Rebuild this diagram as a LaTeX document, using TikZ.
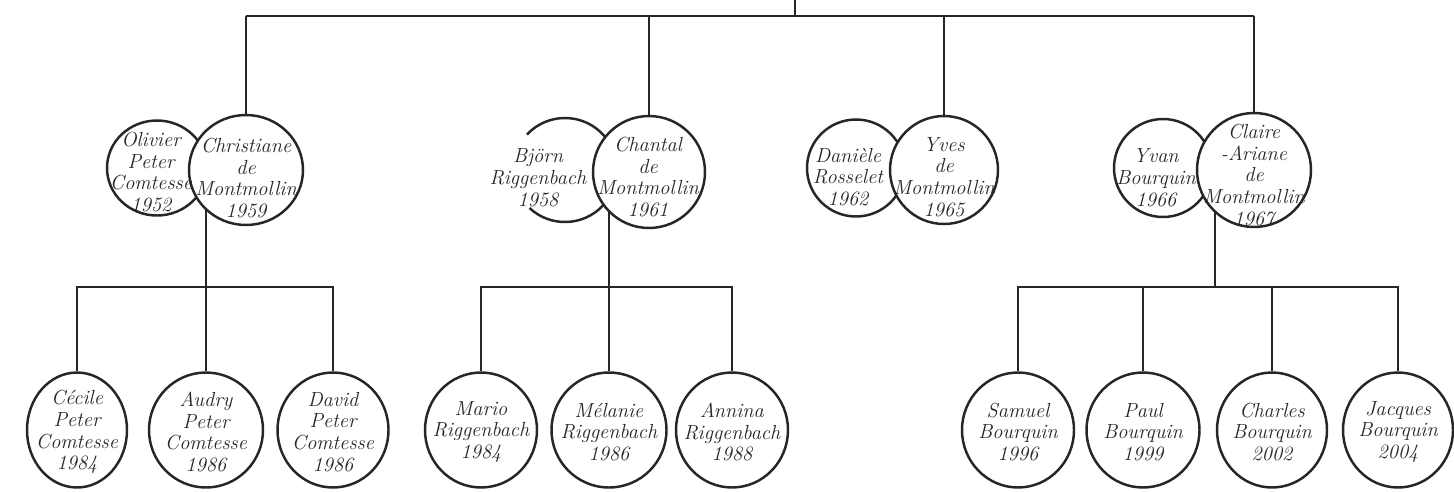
\documentclass[tikz,border=0pt]{standalone}
\usetikzlibrary{shapes.geometric,backgrounds}
\newcommand\famname{\fontsize{11.6}{12.4}\selectfont\itshape}
\begin{document}
\begin{tikzpicture}[x=0.02cm,y=-0.02cm,
  person/.style={ellipse,draw=black!85,line width=1.4pt,fill=white,inner sep=0pt},
  conn/.style={draw=black!85,line width=1.2pt},
  who/.style={align=center,font=\famname,inner sep=0pt,text=black!85}]
\useasboundingbox (0,0) rectangle (1454,491);
% couple 1
\node[person,minimum width=2cm,minimum height=1.9cm] (oli) at (157,168) {};
\node[person,minimum width=2.28cm,minimum height=2.2cm] (chr) at (246,170) {};
% couple 2
\coordinate (bjoc) at (565,170);
\draw[draw=black!85,line width=1.4pt] (bjoc) ++(-137:52) arc[start angle=-137,end angle=133,radius=52];
\node[person,minimum width=2.24cm,minimum height=2.24cm] (cha) at (649,172) {};
% couple 3
\node[person,minimum width=1.96cm,minimum height=1.94cm] (dan) at (856,168) {};
\node[person,minimum width=2.16cm,minimum height=2.16cm] (yve) at (944,170) {};
% couple 4
\node[person,minimum width=1.96cm,minimum height=1.96cm] (yva) at (1163,168) {};
\node[person,minimum width=2.28cm,minimum height=2.28cm] (cla) at (1254,170) {};
% children
\node[person,minimum width=2cm,minimum height=2.3cm] (ce) at (77,430) {};
\node[person,minimum width=2.28cm,minimum height=2.3cm] (au) at (206,430) {};
\node[person,minimum width=2.22cm,minimum height=2.3cm] (da) at (333,430) {};
\node[person,minimum width=2.24cm,minimum height=2.3cm] (ma) at (481,430) {};
\node[person,minimum width=2.3cm,minimum height=2.3cm] (me) at (609,430) {};
\node[person,minimum width=2.24cm,minimum height=2.3cm] (an) at (732,430) {};
\node[person,minimum width=2.24cm,minimum height=2.3cm] (sa) at (1018,430) {};
\node[person,minimum width=2.26cm,minimum height=2.3cm] (pa) at (1143,430) {};
\node[person,minimum width=2.2cm,minimum height=2.3cm] (ch) at (1272,430) {};
\node[person,minimum width=2.2cm,minimum height=2.3cm] (ja) at (1398,430) {};
% texts
\node[who] (oli-t) at (151,172) {Olivier\\Peter\\Comtesse\\1952};
\node[who] (chr-t) at (246,178) {Christiane\\de\\Montmollin\\1959};
\node[who] (bjo-t) at (538,178) {Bj\"orn\\Riggenbach\\1958};
\node[who] (cha-t) at (648,177) {Chantal\\de\\Montmollin\\1961};
\node[who] (dan-t) at (848,177) {Dani\`ele\\Rosselet\\1962};
\node[who] (yve-t) at (944,177) {Yves\\de\\Montmollin\\1965};
\node[who] (yva-t) at (1156,178) {Yvan\\Bourquin\\1966};
\node[who] (cla-t) at (1254,175) {Claire\\-Ariane\\de\\Montmollin\\1967};
\node[who] (ce-t) at (77,432) {C\'ecile\\Peter\\Comtesse\\1984};
\node[who] (au-t) at (206,432) {Audry\\Peter\\Comtesse\\1986};
\node[who] (da-t) at (333,432) {David\\Peter\\Comtesse\\1986};
\node[who] (ma-t) at (481,432) {Mario\\Riggenbach\\1984};
\node[who] (me-t) at (609,432) {M\'elanie\\Riggenbach\\1986};
\node[who] (an-t) at (732,432) {Annina\\Riggenbach\\1988};
\node[who] (sa-t) at (1018,432) {Samuel\\Bourquin\\1996};
\node[who] (pa-t) at (1143,432) {Paul\\Bourquin\\1999};
\node[who] (ch-t) at (1272,432) {Charles\\Bourquin\\2002};
\node[who] (ja-t) at (1398,432) {Jacques\\Bourquin\\2004};
% connectors
\coordinate (root) at (795,0);
\coordinate (bus) at (795,16);
\coordinate (j1) at (206,287);
\coordinate (j2) at (609,287);
\coordinate (j4) at (1215,287);
\begin{pgfonlayer}{background}
\fill[white] (0,0) rectangle (1454,491);
\draw[conn] (root) -- (bus);
\draw[conn] (chr) -- (chr |- bus);
\draw[conn] (cla) -- (cla |- bus);
\draw[conn,line width=1.7pt] (chr |- bus) -- (cla |- bus);
\draw[conn] (cha) -- (cha |- bus);
\draw[conn] (yve) -- (yve |- bus);
\draw[conn] (au) -- (au |- chr);
\draw[conn] (ce) -- (ce |- j1) -- (da |- j1) -- (da);
\draw[conn] (me) -- (me |- cha);
\draw[conn] (ma) -- (ma |- j2) -- (an |- j2) -- (an);
\draw[conn] (j4 |- cla) -- (j4);
\draw[conn] (sa) -- (sa |- j4) -- (ja |- j4) -- (ja);
\draw[conn] (pa) -- (pa |- j4);
\draw[conn] (ch) -- (ch |- j4);
\end{pgfonlayer}
\end{tikzpicture}
\end{document}
